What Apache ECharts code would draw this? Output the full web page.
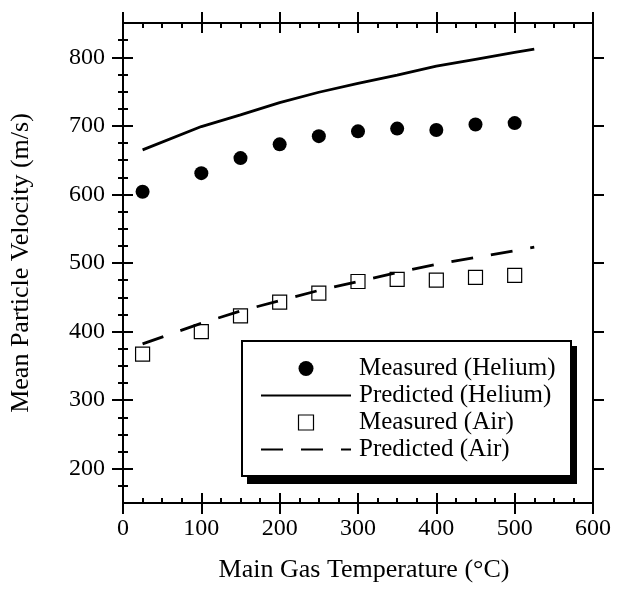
<!DOCTYPE html>
<html>
<head>
<meta charset="utf-8">
<script src="https://cdn.jsdelivr.net/npm/echarts@6/dist/echarts.min.js"></script>
<style>html,body{margin:0;padding:0;background:#fff;}#c{width:617px;height:594px;}</style>
</head>
<body>
<div id="c"></div>
<script>
// ---- data ----
var seriesNames = ['Measured (Helium)', 'Predicted (Helium)', 'Measured (Air)', 'Predicted (Air)'];
var measuredX = [25, 100, 150, 200, 250, 300, 350, 400, 450, 500];
var measuredHelium = [604, 631, 653, 673, 685, 692, 696, 694, 702, 704];
var measuredAir = [367, 400, 423, 443, 456, 473, 476, 475, 479, 482];
var predictedX = [25, 100, 150, 200, 250, 300, 350, 400, 450, 500, 525];
var predictedHelium = [665, 699, 716, 734, 749, 762, 774, 787, 797, 807, 812];
var predictedAir = [382, 412, 430, 445, 460, 473, 486, 498, 508, 518, 523];
var xMajorTicks = [0, 100, 200, 300, 400, 500, 600];
var xMinorTicks = [25, 50, 75, 125, 150, 175, 225, 250, 275, 325, 350, 375, 425, 450, 475, 525, 550, 575];
var yMajorTicks = [200, 300, 400, 500, 600, 700, 800];
var yMinorTicks = [175, 225, 250, 275, 325, 350, 375, 425, 450, 475, 525, 550, 575, 625, 650, 675, 725, 750, 775, 825];
var xTitle = 'Main Gas Temperature (°C)';
var yTitle = 'Mean Particle Velocity (m/s)';

function pairs(xs, ys) { return xs.map(function (x, i) { return [x, ys[i]]; }); }

var FONT = 'Liberation Serif';
var SQUARE = 'path://M0,0L10,0L10,10L0,10Z';
var chart = echarts.init(document.getElementById('c'), null, { renderer: 'canvas' });

function mkAxis(kind, position, opts) {
  var isX = kind === 'x';
  var base = {
    type: 'value',
    position: position,
    min: isX ? 0 : 150,
    max: isX ? 600 : 850,
    splitLine: { show: false },
    axisLine: { show: false, lineStyle: { color: '#000', width: 2 } },
    axisTick: { show: false },
    axisLabel: { show: false },
    minorTick: { show: false }
  };
  return Object.assign(base, opts);
}

function tickSet(kind, position, withLabel, name) {
  var isX = kind === 'x';
  var major = isX ? xMajorTicks : yMajorTicks;
  var minor = isX ? xMinorTicks : yMinorTicks;
  var arr = [];
  var main = mkAxis(kind, position, {
    axisLine: { show: true, onZero: false, lineStyle: { color: '#000', width: 2 } },
    axisTick: { show: true, inside: false, length: 11, customValues: major, lineStyle: { color: '#000', width: 2 } }
  });
  if (withLabel) {
    main.axisLabel = { show: true, customValues: major, fontFamily: FONT, fontSize: 24, color: '#000', margin: isX ? 14 : 18 };
    main.name = name;
    main.nameLocation = 'middle';
    main.nameGap = isX ? 54 : 89;
    main.nameTextStyle = isX
      ? { fontFamily: FONT, fontSize: 26, color: '#000', padding: [0, 0, 0, 12] }
      : { fontFamily: FONT, fontSize: 26, color: '#000' };
  }
  arr.push(main);
  arr.push(mkAxis(kind, position, {
    axisTick: { show: true, inside: true, length: 10, customValues: major, lineStyle: { color: '#000', width: 2 } }
  }));
  arr.push(mkAxis(kind, position, {
    axisTick: { show: true, inside: true, length: 5, customValues: minor, lineStyle: { color: '#000', width: 2 } }
  }));
  return arr;
}

var xAxes = tickSet('x', 'bottom', true, xTitle).concat(tickSet('x', 'top', false));
var yAxes = tickSet('y', 'left', true, yTitle).concat(tickSet('y', 'right', false));

var option = {
  backgroundColor: '#fff',
  animation: false,
  grid: { left: 123, right: 24, top: 23, bottom: 91, containLabel: false, outerBoundsMode: 'none' },
  xAxis: xAxes,
  yAxis: yAxes,
  graphic: [
    { type: 'rect', z: 1, shape: { x: 247, y: 346, width: 330, height: 138 }, style: { fill: '#000' } },
    { type: 'rect', z: 2, shape: { x: 242, y: 341, width: 329, height: 135 }, style: { fill: '#fff', stroke: '#000', lineWidth: 2 } }
  ],
  legend: {
    orient: 'vertical',
    left: 243,
    top: 341,
    itemWidth: 90,
    itemHeight: 15,
    itemGap: 0,
    padding: [14, 10, 10, 17],
    z: 5,
    selectedMode: false,
    symbolKeepAspect: true,
    textStyle: { fontFamily: FONT, fontSize: 25, color: '#000', lineHeight: 27, padding: [0, 0, 0, 3] },
    data: [
      { name: seriesNames[0] },
      { name: seriesNames[1], itemStyle: { opacity: 0 } },
      { name: seriesNames[2], icon: SQUARE, itemStyle: { borderWidth: 1.2 } },
      { name: seriesNames[3], itemStyle: { opacity: 0 } }
    ]
  },
  series: [
    {
      name: seriesNames[0], type: 'scatter', xAxisIndex: 0, yAxisIndex: 0,
      symbol: 'circle', symbolSize: 14, z: 3,
      itemStyle: { color: '#000', opacity: 1 },
      data: pairs(measuredX, measuredHelium)
    },
    {
      name: seriesNames[1], type: 'line', xAxisIndex: 0, yAxisIndex: 0,
      symbol: 'none', smooth: false, z: 3,
      lineStyle: { color: '#000', width: 2.8 },
      itemStyle: { color: '#000' },
      data: pairs(predictedX, predictedHelium)
    },
    {
      name: seriesNames[2], type: 'scatter', xAxisIndex: 0, yAxisIndex: 0,
      symbol: 'rect', symbolSize: 14, z: 3,
      itemStyle: { color: 'rgba(255,255,255,0)', borderColor: '#000', borderWidth: 1.2, opacity: 1 },
      data: pairs(measuredX, measuredAir)
    },
    {
      name: seriesNames[3], type: 'line', xAxisIndex: 0, yAxisIndex: 0,
      symbol: 'none', smooth: false, z: 3,
      lineStyle: { color: '#000', width: 2.8, type: [22, 18] },
      itemStyle: { color: '#000' },
      data: pairs(predictedX, predictedAir)
    }
  ]
};
chart.setOption(option);
</script>
</body>
</html>
